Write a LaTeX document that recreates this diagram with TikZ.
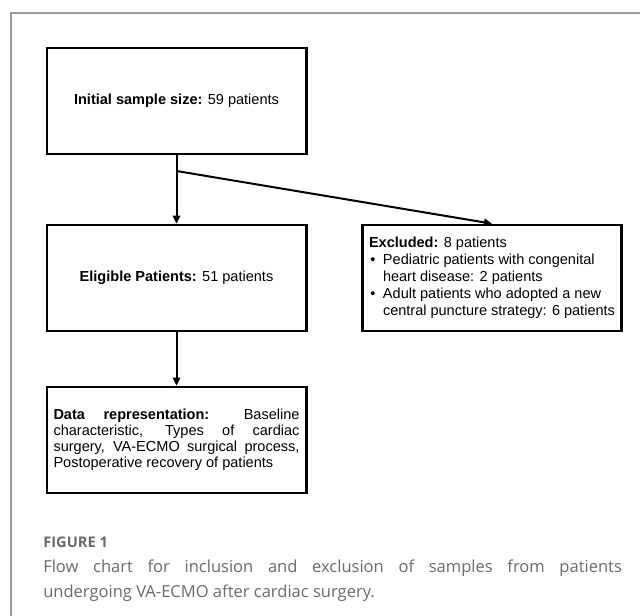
\documentclass[tikz,border=0pt]{standalone}
\usepackage{fontspec}
\setmainfont{Liberation Sans}
\newfontfamily\capfont{Open Sans}
\usetikzlibrary{arrows.meta}
\definecolor{framegray}{HTML}{9A9A9A}
\definecolor{capgray}{HTML}{6A6A6A}
\begin{document}
\begin{tikzpicture}[x=0.75pt,y=-0.75pt,
  box/.style={draw, line width=2pt, minimum width=194.5pt, minimum height=79.5pt,
    inner sep=0pt, font=\fontsize{10.9pt}{13pt}\selectfont},
  arr/.style={line width=1.5pt, -{Triangle[length=6pt,width=5.5pt]}},
  captext/.style={anchor=base west, inner sep=0pt, text=capgray,
    font=\capfont\fontsize{12.4pt}{15pt}\selectfont}]
\useasboundingbox (0,0) rectangle (640,615);
\draw[framegray, line width=1.1pt] (11,625) -- (11,13) -- (650,13);

\node[box] (init) at (176.5,101) {\textbf{Initial sample size:} 59 patients};
\node[box] (elig) at (176.5,278) {\textbf{Eligible Patients:} 51 patients};
\node[box] (exc) at (492,278) {\parbox{184.5pt}{\baselineskip=12.8pt
  \textbf{Excluded:} 8 patients\\
  \makebox[10.5pt][l]{\hspace{1pt}\textbullet}Pediatric patients with congenital\\
  \hspace*{10.5pt}heart disease: 2 patients\\
  \makebox[10.5pt][l]{\hspace{1pt}\textbullet}Adult patients who adopted a new\\
  \hspace*{10.5pt}central puncture strategy: 6 patients}};
\node[box] (data) at (176.5,440) {\parbox{184.5pt}{\baselineskip=12pt
  \makebox[184.5pt][s]{\textbf{Data representation:} Baseline}\\
  \makebox[184.5pt][s]{characteristic, Types of cardiac}\\
  \makebox[184.5pt][s]{surgery, VA-ECMO surgical process,}\\
  Postoperative recovery of patients}};

\coordinate (br) at (176.5,171);
\draw[arr] (init.south) -- (elig.north);
\draw[arr] (br) -- (exc.north);
\draw[arr] (elig.south) -- (data.north);

\node[captext, font=\capfont\bfseries\fontsize{11pt}{13pt}\selectfont] (fig) at (43,547) {FIGURE 1};
\node[captext] (cap1) at (43,572) {\makebox[434pt][s]{Flow chart for inclusion and exclusion of samples from patients}};
\node[captext] (cap2) at (43,597) {undergoing VA-ECMO after cardiac surgery.};
\end{tikzpicture}
\end{document}
